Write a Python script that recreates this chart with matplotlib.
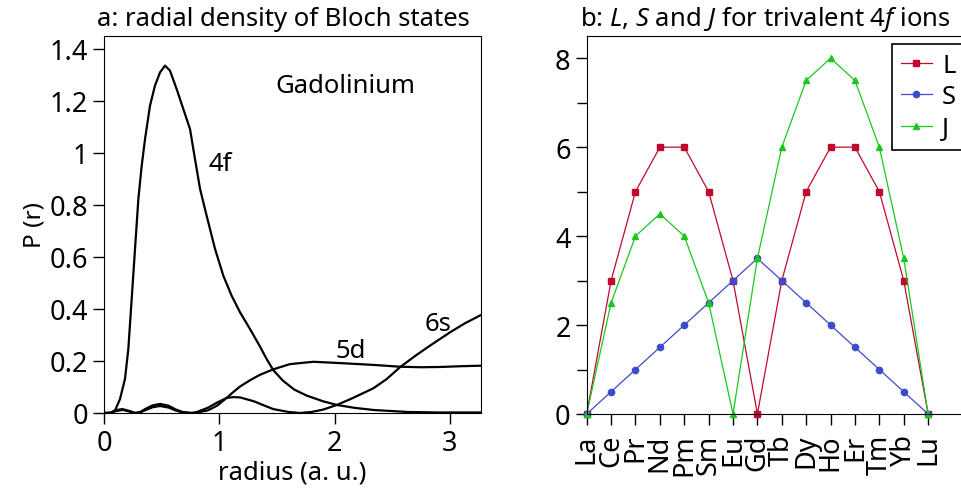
import numpy as np
import matplotlib
matplotlib.use("Agg")
import matplotlib.pyplot as plt
from matplotlib.ticker import FormatStrFormatter, MultipleLocator

plt.rcParams['font.family'] = ['Noto Sans', 'DejaVu Sans']
plt.rcParams['font.size'] = 18.5
plt.rcParams['mathtext.fontset'] = 'custom'
plt.rcParams['mathtext.it'] = 'Noto Sans:italic'
plt.rcParams['mathtext.rm'] = 'Noto Sans'

# radial densities for Gd
r_4f = [0.0, 0.06, 0.095, 0.139, 0.182, 0.211, 0.24, 0.269, 0.298, 0.327, 0.356, 0.399,
        0.442, 0.486, 0.529, 0.572, 0.63, 0.688, 0.746, 0.789, 0.833, 0.89, 0.963,
        1.035, 1.107, 1.18, 1.266, 1.35, 1.41, 1.468, 1.55, 1.65, 1.758, 1.9, 2.02,
        2.17, 2.34, 2.63, 2.9, 3.27]
p_4f = [0.0, 0.0, 0.009, 0.054, 0.131, 0.246, 0.438, 0.631, 0.823, 0.951, 1.054, 1.182,
        1.259, 1.31, 1.336, 1.317, 1.246, 1.169, 1.092, 0.977, 0.862, 0.759, 0.631,
        0.528, 0.451, 0.387, 0.323, 0.258, 0.208, 0.165, 0.125, 0.09, 0.067, 0.045, 0.031,
        0.02, 0.0115, 0.004, 0.002, 0.002]

r_5d = [0.0, 0.06, 0.1, 0.16, 0.21, 0.27, 0.31, 0.36, 0.42, 0.486, 0.56, 0.62, 0.68, 0.75,
        0.8, 0.9, 0.98, 1.064, 1.12, 1.18, 1.27, 1.353, 1.468, 1.613, 1.815, 2.047,
        2.336, 2.567, 2.75, 2.914, 3.1, 3.27]
p_5d = [0.0, 0.0, 0.007, 0.012, 0.007, 0.0, 0.002, 0.011, 0.022, 0.027, 0.021, 0.01, 0.002, 0.0,
        0.001, 0.01, 0.028, 0.058, 0.08, 0.102, 0.127, 0.147, 0.168, 0.188, 0.197, 0.192,
        0.185, 0.178, 0.176, 0.177, 0.18, 0.182]

r_6s = [0.0, 0.06, 0.1, 0.16, 0.21, 0.27, 0.31, 0.36, 0.42, 0.486, 0.56, 0.62, 0.68, 0.76,
        0.8, 0.9, 0.98, 1.064, 1.12, 1.18, 1.3, 1.4, 1.468, 1.6, 1.7, 1.8, 1.9,
        2.02, 2.15, 2.336, 2.45, 2.567, 2.7, 2.827, 3.0, 3.13, 3.27]
p_6s = [0.0, 0.002, 0.011, 0.015, 0.009, 0.0, 0.003, 0.016, 0.029, 0.035, 0.028, 0.014, 0.004, 0.0,
        0.003, 0.02, 0.04, 0.058, 0.061, 0.06, 0.045, 0.027, 0.015, 0.004, 0.0, 0.004, 0.013,
        0.031, 0.056, 0.095, 0.13, 0.176, 0.22, 0.259, 0.31, 0.345, 0.377]

# Hund's rule quantum numbers for the trivalent lanthanide ions
ions = ['La', 'Ce', 'Pr', 'Nd', 'Pm', 'Sm', 'Eu', 'Gd', 'Tb', 'Dy', 'Ho', 'Er', 'Tm', 'Yb', 'Lu']
L_vals = [0, 3, 5, 6, 6, 5, 3, 0, 3, 5, 6, 6, 5, 3, 0]
S_vals = [0, 0.5, 1, 1.5, 2, 2.5, 3, 3.5, 3, 2.5, 2, 1.5, 1, 0.5, 0]
J_vals = [0, 2.5, 4, 4.5, 4, 2.5, 0, 3.5, 6, 7.5, 8, 7.5, 6, 3.5, 0]

W, H = 962, 489
fig = plt.figure(figsize=(W / 100, H / 100), dpi=100)

# --- panel a ---
ax1 = fig.add_axes([104 / W, (H - 414) / H, 376.7 / W, 377 / H])
for r, p in [(r_4f, p_4f), (r_5d, p_5d), (r_6s, p_6s)]:
    ax1.plot(r, p, color='black', lw=1.6, solid_joinstyle='round')
ax1.set_xlim(0, 3.267)
ax1.set_ylim(0, 1.45)
ax1.set_xticks([0, 1, 2, 3])
ax1.set_yticks(np.arange(0, 1.41, 0.2))
ax1.yaxis.set_major_formatter(FormatStrFormatter('%g'))
ax1.tick_params(direction='out', length=8, width=1, labelsize=19.5)
ax1.set_xlabel('radius (a. u.)', labelpad=2, fontsize=18.5)
ax1.set_ylabel('P (r)', labelpad=2, fontsize=17.5)
ax1.set_title('a: radial density of Bloch states', loc='left', x=-0.019, pad=8, fontsize=18.5)
ax1.text(2.09, 1.258, 'Gadolinium', ha='center', va='center')
ax1.text(1.006, 0.958, '4f', ha='center', va='center')
ax1.text(2.14, 0.242, '5d', ha='center', va='center')
ax1.text(2.9, 0.346, '6s', ha='center', va='center')

# --- panel b ---
ax2 = fig.add_axes([586.7 / W, (H - 415) / H, 378 / W, 378 / H])
x = np.arange(len(ions))
ax2.plot(x, L_vals, color='#bf0a2e', lw=0.9, marker='s', ms=4.5, label='L', clip_on=False)
ax2.plot(x, S_vals, color='#3c4cc8', lw=0.9, marker='o', ms=4.5, label='S', clip_on=False)
ax2.plot(x, J_vals, color='#19c81e', lw=0.9, marker='^', ms=4.5, label='J', clip_on=False)
ax2.set_xlim(0, 15.5)
ax2.set_ylim(0, 8.5)
ax2.set_xticks(x)
ax2.set_xticklabels(ions, rotation=90, fontsize=18.5)
ax2.yaxis.set_major_locator(MultipleLocator(2))
ax2.yaxis.set_minor_locator(MultipleLocator(1))
ax2.tick_params(direction='out', length=8, width=1, labelsize=19.5)
ax2.tick_params(which='minor', direction='out', length=7, width=1)
ax2.tick_params(axis='x', pad=6)
ax2.set_title(r'b: $L$, $S$ and $J$ for trivalent 4$f$ ions', loc='left', x=-0.019, pad=8,
              fontsize=18.5)
leg = ax2.legend(loc='upper left', bbox_to_anchor=(892 / W, 1 - 45 / H),
                 bbox_transform=fig.transFigure, fancybox=False, framealpha=1,
                 edgecolor='black', handlelength=1.2, handletextpad=0.4,
                 labelspacing=0.25, borderpad=0.35, borderaxespad=0)
leg.get_frame().set_linewidth(1.2)

fig.savefig('out.png', dpi=100)
